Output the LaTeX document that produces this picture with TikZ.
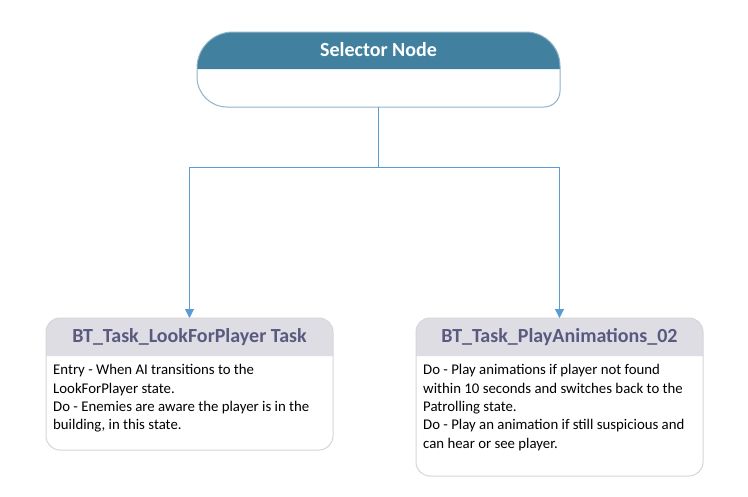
\documentclass[tikz,border=0pt]{standalone}
\usepackage{fontspec}
\setmainfont{Carlito}
\usetikzlibrary{arrows.meta}
\definecolor{selhead}{HTML}{41819F}
\definecolor{selborder}{HTML}{8FB4C8}
\definecolor{taskhead}{HTML}{DEDDE4}
\definecolor{taskborder}{HTML}{D6D6DA}
\definecolor{tasktitle}{HTML}{5A5A80}
\definecolor{connblue}{HTML}{5B9BD5}
\tikzset{
  conn/.style={draw=connblue, line width=1pt, -{Triangle[length=9pt,width=9pt]}},
  anchorbox/.style={inner sep=0pt, outer sep=0pt},
  tasktitlestyle/.style={text=tasktitle, font={\fontsize{20}{23}\selectfont\bfseries}},
  bodytext/.style={anchor=north west, inner sep=0pt, align=left, font={\fontsize{14.8}{18.3}\selectfont}},
}
\begin{document}
\begin{tikzpicture}[x=1pt,y=-1pt]
\useasboundingbox (0,0) rectangle (748,496);
\fill[white] (0,0) rectangle (748,496);
% Selector node shape
\fill[selhead] (197,69) -- (197,68) arc(180:270:36) -- (526,32) arc(270:360:34) -- (560,69) -- cycle;
\draw[selborder, line width=1pt] (197,68) arc(180:270:36) -- (526,32) arc(270:360:34) -- (560,91) arc(0:90:16) -- (227,107) arc(90:180:30) -- cycle;
\node[anchorbox, minimum width=363pt, minimum height=75pt] (sel) at (378.5,69.5) {};
\node[text=white, font={\fontsize{20}{23}\selectfont\bfseries}] (seltitle) at (378.5,50) {Selector Node};
% Task 1
\fill[taskhead] (46,356) -- (46,332) arc(180:270:14) -- (319,318) arc(270:360:14) -- (333,356) -- cycle;
\draw[taskborder, line width=1pt] (46,332) arc(180:270:14) -- (319,318) arc(270:360:14) -- (333,436) arc(0:90:14) -- (60,450) arc(90:180:14) -- cycle;
\node[anchorbox, minimum width=287pt, minimum height=132pt] (t1) at (189.5,384) {};
\node[tasktitlestyle] (t1title) at (189.5,337) {BT\_Task\_LookForPlayer Task};
\node[bodytext] (t1body) at (53,364.5) {Entry - When AI transitions to the\\LookForPlayer state.\\Do - Enemies are aware the player is in the\\building, in this state.};
% Task 2
\fill[taskhead] (416,356) -- (416,332) arc(180:270:14) -- (689,318) arc(270:360:14) -- (703,356) -- cycle;
\draw[taskborder, line width=1pt] (416,332) arc(180:270:14) -- (689,318) arc(270:360:14) -- (703,462) arc(0:90:14) -- (430,476) arc(90:180:14) -- cycle;
\node[anchorbox, minimum width=287pt, minimum height=158pt] (t2) at (559.5,397) {};
\node[tasktitlestyle] (t2title) at (559.5,337) {BT\_Task\_PlayAnimations\_02};
\node[bodytext] (t2body) at (423,364.5) {Do - Play animations if player not found\\within 10 seconds and switches back to the\\Patrolling state.\\Do - Play an animation if still suspicious and\\can hear or see player.};
% Connectors
\draw[conn] (sel.south) -- ++(0,60) coordinate (j) -| (t1.north);
\draw[conn] (j) -| (t2.north);
\end{tikzpicture}
\end{document}
